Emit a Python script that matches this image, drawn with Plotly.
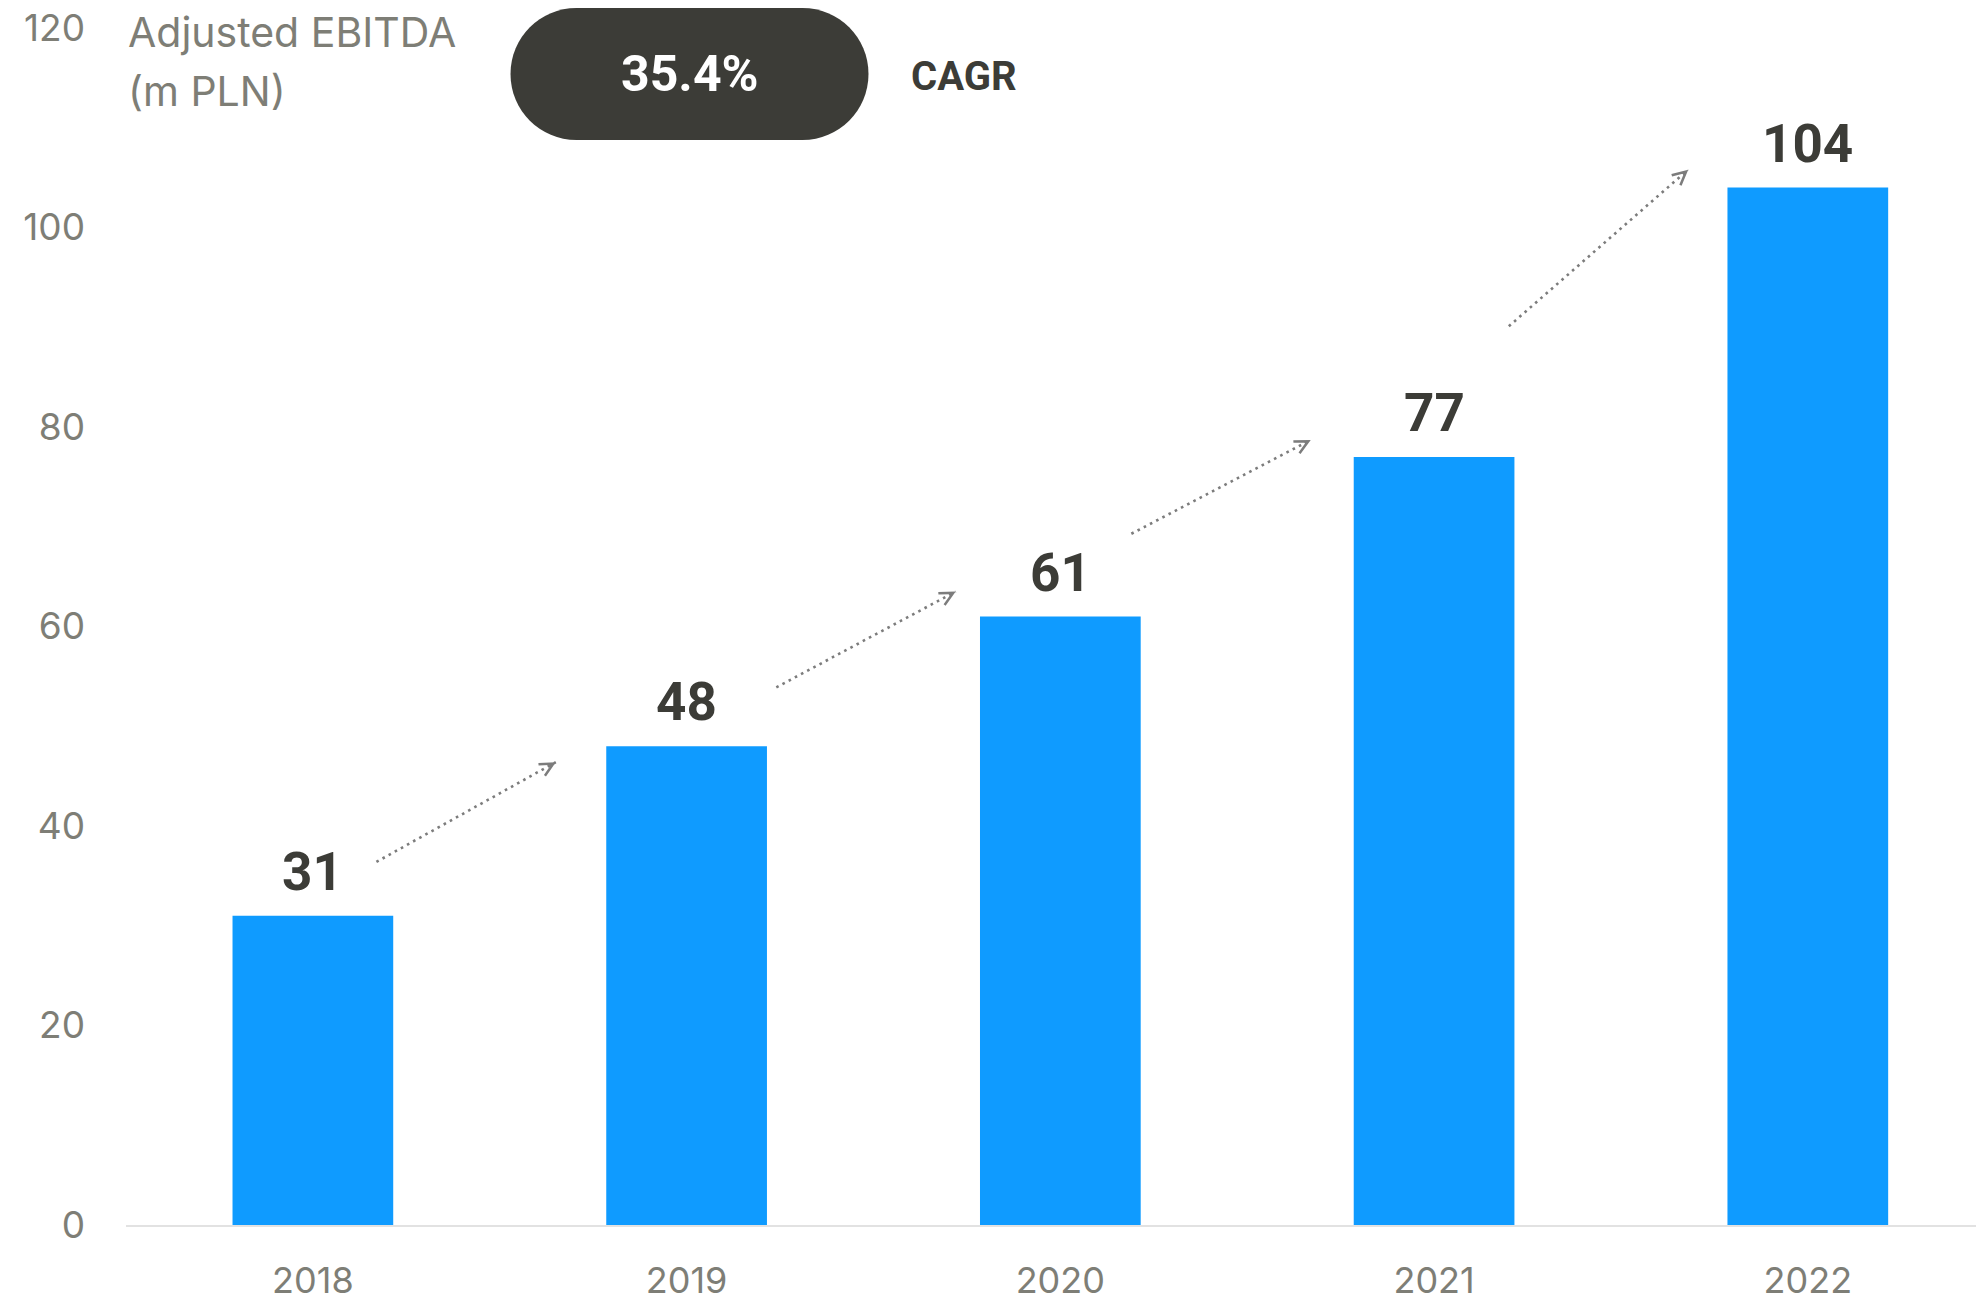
import math
import plotly.graph_objects as go

# --- data -------------------------------------------------------------
years = ["2018", "2019", "2020", "2021", "2022"]
ebitda = [31, 48, 61, 77, 104]
cagr_text = "35.4%"
y_ticks = [0, 20, 40, 60, 80, 100, 120]

# --- styling / layout constants ---------------------------------------
BAR_COLOR = "#0f9bff"
DARK = "#3c3c37"
GREY_TEXT = "#7e7e76"
ARROW_GREY = "#7c7c7c"
TICK_FONT = "Inter, 'Open Sans', sans-serif"
BOLD_FONT = "Roboto, Inter, sans-serif"

W, H = 1976, 1304
M_L, M_R, M_T, M_B = 126, 0, 28, 79
X_RANGE = [-0.5, 4.45]
Y_RANGE = [0, 120]

plot_h = H - M_T - M_B
plot_w = W - M_L - M_R
px_per_x = plot_w / (X_RANGE[1] - X_RANGE[0])
px_per_y = plot_h / (Y_RANGE[1] - Y_RANGE[0])

# growth arrows between consecutive bars: (x0, y0, x1, y1) in axis units
growth_arrows = [
    (0.17, 36.4, 0.65, 46.4),
    (1.24, 53.9, 1.72, 63.5),
    (2.19, 69.3, 2.67, 78.7),
    (3.20, 90.1, 3.68, 105.8),
]

fig = go.Figure()

fig.add_trace(go.Bar(
    x=list(range(len(years))),
    y=ebitda,
    width=0.43,
    marker=dict(color=BAR_COLOR, line=dict(width=0)),
    hoverinfo="skip",
))

# dotted growth lines
for x0, y0, x1, y1 in growth_arrows:
    fig.add_trace(go.Scatter(
        x=[x0, x1], y=[y0, y1], mode="lines",
        line=dict(color=ARROW_GREY, width=2.6, dash="2.6px,4.4px"),
        hoverinfo="skip",
    ))

annotations = []

# open arrow heads at the end of each dotted line
TAIL = 26
for x0, y0, x1, y1 in growth_arrows:
    dxp = (x1 - x0) * px_per_x
    dyp = (y1 - y0) * px_per_y
    n = math.hypot(dxp, dyp)
    annotations.append(dict(
        x=x1, y=y1, xref="x", yref="y",
        ax=-dxp / n * TAIL, ay=dyp / n * TAIL,
        text=" ", showarrow=True, startstandoff=TAIL - 7,
        arrowhead=5, arrowsize=1.3, arrowwidth=2,
        arrowcolor=ARROW_GREY, font=dict(size=1), borderpad=0,
    ))

# value labels above bars
for i, v in enumerate(ebitda):
    annotations.append(dict(
        x=i, y=v, xref="x", yref="y",
        text=str(v), showarrow=False,
        yanchor="bottom", yshift=11,
        font=dict(family=BOLD_FONT, size=53, color=DARK, weight="bold"),
    ))


def px_to_paper_y(py):
    return (H - M_B - py) / plot_h


def px_to_paper_x(px):
    return (px - M_L) / plot_w


# axis title in two lines, top-left
annotations.append(dict(
    x=0, y=px_to_paper_y(32), xref="paper", yref="paper",
    xanchor="left", yanchor="middle", text="Adjusted EBITDA",
    showarrow=False, font=dict(family=TICK_FONT, size=41, color=GREY_TEXT),
))
annotations.append(dict(
    x=0, y=px_to_paper_y(91), xref="paper", yref="paper",
    xanchor="left", yanchor="middle", text="(m PLN)",
    showarrow=False, font=dict(family=TICK_FONT, size=41, color=GREY_TEXT),
))

# CAGR pill
pill_cx, pill_cy = px_to_paper_x(689.5), px_to_paper_y(74)
hw, hh = 179, 66
k = 0.5523 * hh
pill_path = (
    f"M {-hw + hh},{hh} L {hw - hh},{hh} "
    f"C {hw - hh + k},{hh} {hw},{k} {hw},0 "
    f"C {hw},{-k} {hw - hh + k},{-hh} {hw - hh},{-hh} "
    f"L {-hw + hh},{-hh} "
    f"C {-hw + hh - k},{-hh} {-hw},{-k} {-hw},0 "
    f"C {-hw},{k} {-hw + hh - k},{hh} {-hw + hh},{hh} Z"
)
fig.add_shape(
    type="path", path=pill_path,
    xref="paper", yref="paper",
    xsizemode="pixel", ysizemode="pixel",
    xanchor=pill_cx, yanchor=pill_cy,
    fillcolor=DARK, line=dict(width=0), layer="above",
)
annotations.append(dict(
    x=pill_cx, y=pill_cy, xref="paper", yref="paper",
    xanchor="center", yanchor="middle", text=cagr_text, showarrow=False,
    font=dict(family=BOLD_FONT, size=50, color="white", weight="bold"),
))
annotations.append(dict(
    x=px_to_paper_x(909), y=px_to_paper_y(76), xref="paper", yref="paper",
    xanchor="left", yanchor="middle", text="CAGR", showarrow=False,
    font=dict(family=BOLD_FONT, size=40, color=DARK, weight="bold"),
))

fig.update_layout(
    width=W, height=H,
    margin=dict(l=M_L, r=M_R, t=M_T, b=M_B, pad=0, autoexpand=False),
    plot_bgcolor="white", paper_bgcolor="white",
    showlegend=False,
    annotations=annotations,
    xaxis=dict(
        range=X_RANGE, automargin=False,
        tickmode="array", tickvals=list(range(len(years))), ticktext=years,
        showgrid=False, zeroline=False,
        showline=True, linecolor="#e2e2e2", linewidth=2,
        ticks="", ticklabelstandoff=23,
        tickfont=dict(family=TICK_FONT, size=36, color=GREY_TEXT),
        fixedrange=True,
    ),
    yaxis=dict(
        range=Y_RANGE, automargin=False,
        tickmode="array", tickvals=y_ticks,
        showgrid=False, zeroline=False, showline=False,
        ticks="", ticklabelstandoff=40,
        tickfont=dict(family=TICK_FONT, size=37, color=GREY_TEXT),
        fixedrange=True,
    ),
)

fig.write_html("out.html")
